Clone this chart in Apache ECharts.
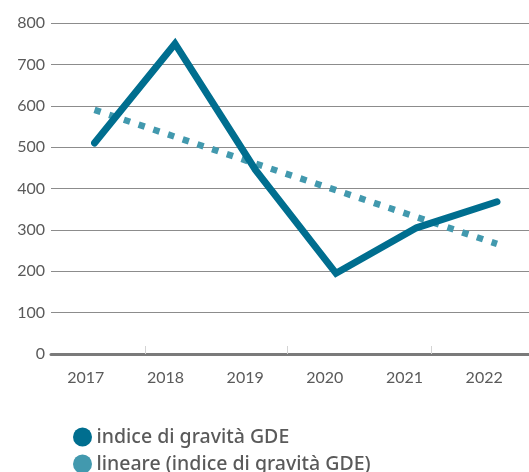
<!DOCTYPE html>
<html>
<head>
<meta charset="utf-8">
<script src="https://cdn.jsdelivr.net/npm/echarts@6/dist/echarts.min.js"></script>
<style>
  html, body { margin: 0; padding: 0; background: #fff; }
  #main { width: 529px; height: 472px; }
</style>
</head>
<body>
<div id="main"></div>
<script>
// values
const years = ['2017', '2018', '2019', '2020', '2021', '2022'];
const gravita = [510, 750, 445, 195, 305, 368];
const lineare = [590, 525, 460, 396, 331, 266];
const yTicks = [0, 100, 200, 300, 400, 500, 600, 700, 800];

const darkBlue = '#006e8f';
const lightBlue = '#4299ae';
const textGrey = '#5a5a5a';

var chartDom = document.getElementById('main');
var myChart = echarts.init(chartDom);
var option;

option = {
    animation: false,
    textStyle: { fontFamily: 'Lato' },
    grid: [
        // axes, gridlines and labels
        { left: 51, right: 0, top: 23, bottom: 118 },
        // the lines themselves (points sit a bit to the right of the labels)
        { left: 94.5, right: 32, top: 23, bottom: 118 }
    ],
    xAxis: [
        {
            gridIndex: 0,
            type: 'category',
            data: years,
            boundaryGap: true,
            axisLine: { show: true, lineStyle: { color: '#7a7a7a', width: 3 } },
            axisTick: { show: false },
            axisLabel: {
                color: textGrey, fontSize: 16, margin: 16,
                padding: [0, 10, 0, 0]
            }
        },
        {
            gridIndex: 1,
            type: 'category',
            data: years,
            boundaryGap: false,
            show: false
        },
        {
            // faint tick marks on the baseline
            gridIndex: 0,
            type: 'value',
            position: 'bottom',
            min: 0,
            max: 6,
            axisLine: { show: false },
            splitLine: { show: false },
            axisLabel: { show: false },
            axisTick: {
                show: true, inside: true, length: 8,
                customValues: [1.18, 2.97, 4.77],
                lineStyle: { color: '#d4d4d4', width: 1 }
            }
        }
    ],
    yAxis: [
        {
            gridIndex: 0,
            type: 'value',
            min: yTicks[0],
            max: yTicks[yTicks.length - 1],
            interval: 100,
            axisLine: { show: false },
            axisTick: { show: false },
            axisLabel: { color: textGrey, fontSize: 16, margin: 6 },
            splitLine: { lineStyle: { color: '#8c8c8c', width: 1.2 } }
        },
        {
            gridIndex: 1,
            type: 'value',
            min: yTicks[0],
            max: yTicks[yTicks.length - 1],
            show: false
        }
    ],
    legend: {
        orient: 'vertical',
        left: 73,
        top: 427,
        height: 60,
        padding: 0,
        itemWidth: 20,
        itemHeight: 19,
        itemGap: 7,
        icon: 'circle',
        textStyle: {
            color: textGrey, fontSize: 19.5, fontFamily: 'Noto Sans',
            fontWeight: 500, padding: [0, 0, 0, -1]
        },
        data: ['indice di gravità GDE', 'lineare (indice di gravità GDE)']
    },
    series: [
        {
            name: 'lineare (indice di gravità GDE)',
            type: 'line',
            xAxisIndex: 1,
            yAxisIndex: 1,
            data: lineare,
            symbol: 'none',
            color: lightBlue,
            lineStyle: { width: 6.5, type: [6.5, 9], cap: 'butt', color: lightBlue },
            z: 2
        },
        {
            name: 'indice di gravità GDE',
            type: 'line',
            xAxisIndex: 1,
            yAxisIndex: 1,
            data: gravita,
            symbol: 'none',
            color: darkBlue,
            lineStyle: { width: 7, cap: 'round', join: 'miter', color: darkBlue },
            z: 3
        }
    ]
};
option && myChart.setOption(option);
</script>
</body>
</html>
